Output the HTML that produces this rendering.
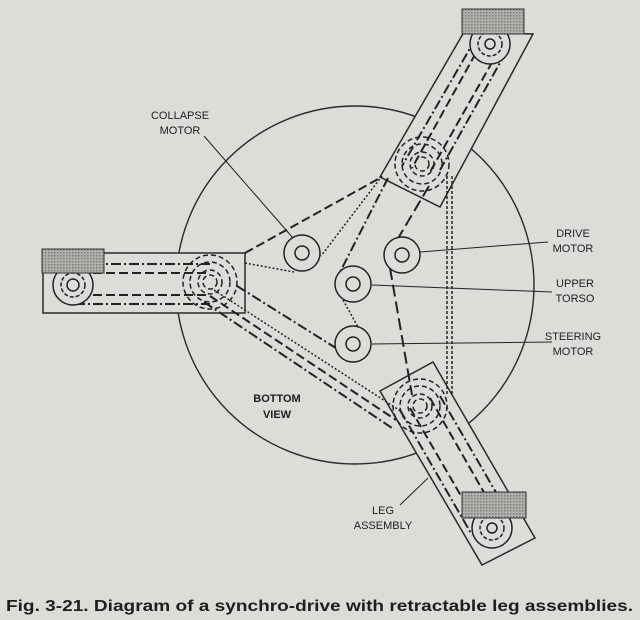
<!DOCTYPE html>
<html><head><meta charset="utf-8"><style>
html,body{margin:0;padding:0;background:#dcdcd8;}
svg{display:block;}
text{font-family:"Liberation Sans",sans-serif;fill:#1e1e1e;}
</style></head><body>
<svg width="640" height="620" viewBox="0 0 640 620">
<defs>
<pattern id="dots" width="3" height="3" patternUnits="userSpaceOnUse"><rect width="3" height="3" fill="#b0b0ac"/><rect width="1.5" height="1.5" fill="#7c7c78"/></pattern>
</defs>
<rect width="640" height="620" fill="#dcdcd8"/>
<circle cx="355" cy="285" r="179" fill="none" stroke="#2a2a2a" stroke-width="1.4"/>

<g fill="#dcdcd8" stroke="#2a2a2a" stroke-width="1.5">
<rect x="43" y="253" width="202" height="60"/>
<polygon points="464,32 533,34 440,207 380,177"/>
<polygon points="380,391 433,362 535,538 482,565"/>
</g>

<g fill="none" stroke="#222" stroke-width="2">
<g stroke-dasharray="10,3,2,3"><line x1="75" y1="264" x2="210" y2="264"/><line x1="75" y1="304" x2="210" y2="304"/></g>
<g stroke-dasharray="9,4"><line x1="80" y1="273" x2="210" y2="273"/><line x1="80" y1="295" x2="210" y2="295"/></g>
<g stroke-dasharray="10,3,2,3"><line x1="476" y1="38" x2="402" y2="166"/><line x1="506" y1="52" x2="440" y2="170"/></g>
<g stroke-dasharray="9,4"><line x1="482" y1="42" x2="412" y2="168"/><line x1="499" y1="50" x2="430" y2="172"/></g>
<g stroke-dasharray="10,3,2,3"><line x1="400" y1="410" x2="472" y2="535"/><line x1="440" y1="396" x2="512" y2="520"/></g>
<g stroke-dasharray="9,4"><line x1="410" y1="408" x2="482" y2="532"/><line x1="430" y1="398" x2="502" y2="524"/></g>
<line x1="245" y1="253" x2="380" y2="178" stroke-dasharray="9,4" />
<line x1="429" y1="186" x2="390" y2="252" stroke-dasharray="12,5"/>
<line x1="390" y1="268" x2="412" y2="395" stroke-dasharray="12,5"/>
<line x1="447" y1="176" x2="447" y2="396" stroke-dasharray="3,2" stroke-width="1.5"/>
<line x1="452" y1="176" x2="452" y2="396" stroke-dasharray="3,2" stroke-width="1.5"/>
<line x1="382" y1="176" x2="321" y2="256" stroke-dasharray="2,2" stroke-width="1.5"/>
<line x1="388" y1="178" x2="339" y2="274" stroke-dasharray="10,3,2,3"/>
<line x1="245" y1="263" x2="294" y2="272" stroke-dasharray="2,2" stroke-width="1.5"/>
<line x1="237" y1="286" x2="339" y2="350" stroke-dasharray="10,3,2,3"/>
<line x1="210" y1="296" x2="396" y2="420" stroke-dasharray="9,4"/>
<line x1="204" y1="302" x2="392" y2="428" stroke-dasharray="10,3,2,3"/>
<line x1="214" y1="290" x2="402" y2="412" stroke-dasharray="2,2" stroke-width="1.5"/>
<line x1="343" y1="300" x2="358" y2="327" stroke-dasharray="2,2" stroke-width="1.5"/>
</g>

<g fill="none" stroke="#222" stroke-width="1.5">
<g><circle cx="73" cy="285" r="20" fill="#dcdcd8"/><circle cx="73" cy="285" r="12" stroke-dasharray="4,2"/><circle cx="73" cy="285" r="6"/></g>
<g stroke-dasharray="5,3"><circle cx="210" cy="282" r="27"/><circle cx="210" cy="282" r="20"/><circle cx="210" cy="282" r="12"/><circle cx="210" cy="282" r="7"/></g>
<g><circle cx="490" cy="44" r="20" fill="#dcdcd8"/><circle cx="490" cy="44" r="12" stroke-dasharray="4,2"/><circle cx="490" cy="44" r="5"/></g>
<g stroke-dasharray="5,3"><circle cx="422" cy="164" r="27"/><circle cx="422" cy="164" r="20"/><circle cx="422" cy="164" r="12"/><circle cx="422" cy="164" r="7"/></g>
<g stroke-dasharray="5,3"><circle cx="420" cy="406" r="27"/><circle cx="420" cy="406" r="20"/><circle cx="420" cy="406" r="12"/><circle cx="420" cy="406" r="7"/></g>
<g><circle cx="492" cy="528" r="20" fill="#dcdcd8"/><circle cx="492" cy="528" r="12" stroke-dasharray="4,2"/><circle cx="492" cy="528" r="5"/></g>
</g>

<g fill="url(#dots)" stroke="#333" stroke-width="1">
<rect x="42" y="249" width="62" height="24"/>
<rect x="462" y="9" width="62" height="25"/>
<rect x="462" y="492" width="64" height="26"/>
</g>

<g fill="#dcdcd8" stroke="#222" stroke-width="1.5">
<g><circle cx="302" cy="253" r="18"/><circle cx="302" cy="253" r="7"/></g>
<g><circle cx="402" cy="255" r="18"/><circle cx="402" cy="255" r="7"/></g>
<g><circle cx="353" cy="284" r="18"/><circle cx="353" cy="284" r="7"/></g>
<g><circle cx="353" cy="344" r="18"/><circle cx="353" cy="344" r="7"/></g>
</g>

<g stroke="#222" stroke-width="1" fill="none">
<line x1="204" y1="136" x2="293" y2="238"/>
<line x1="420" y1="252" x2="548" y2="242"/>
<line x1="372" y1="285" x2="552" y2="292"/>
<line x1="372" y1="344" x2="552" y2="342"/>
<line x1="400" y1="505" x2="428" y2="478"/>
</g>

<g font-size="11" text-anchor="middle">
<text x="180" y="119">COLLAPSE</text>
<text x="180" y="134">MOTOR</text>
<text x="573" y="237">DRIVE</text>
<text x="573" y="252">MOTOR</text>
<text x="575" y="287">UPPER</text>
<text x="575" y="302">TORSO</text>
<text x="573" y="340">STEERING</text>
<text x="573" y="355">MOTOR</text>
<text x="277" y="402" font-weight="bold">BOTTOM</text>
<text x="277" y="418" font-weight="bold">VIEW</text>
<text x="383" y="514">LEG</text>
<text x="383" y="529">ASSEMBLY</text>
</g>
<text x="6" y="611" font-size="16" font-weight="bold" textLength="627" lengthAdjust="spacingAndGlyphs">Fig. 3-21.  Diagram of a synchro-drive with retractable leg assemblies.</text>
</svg>
</body></html>
